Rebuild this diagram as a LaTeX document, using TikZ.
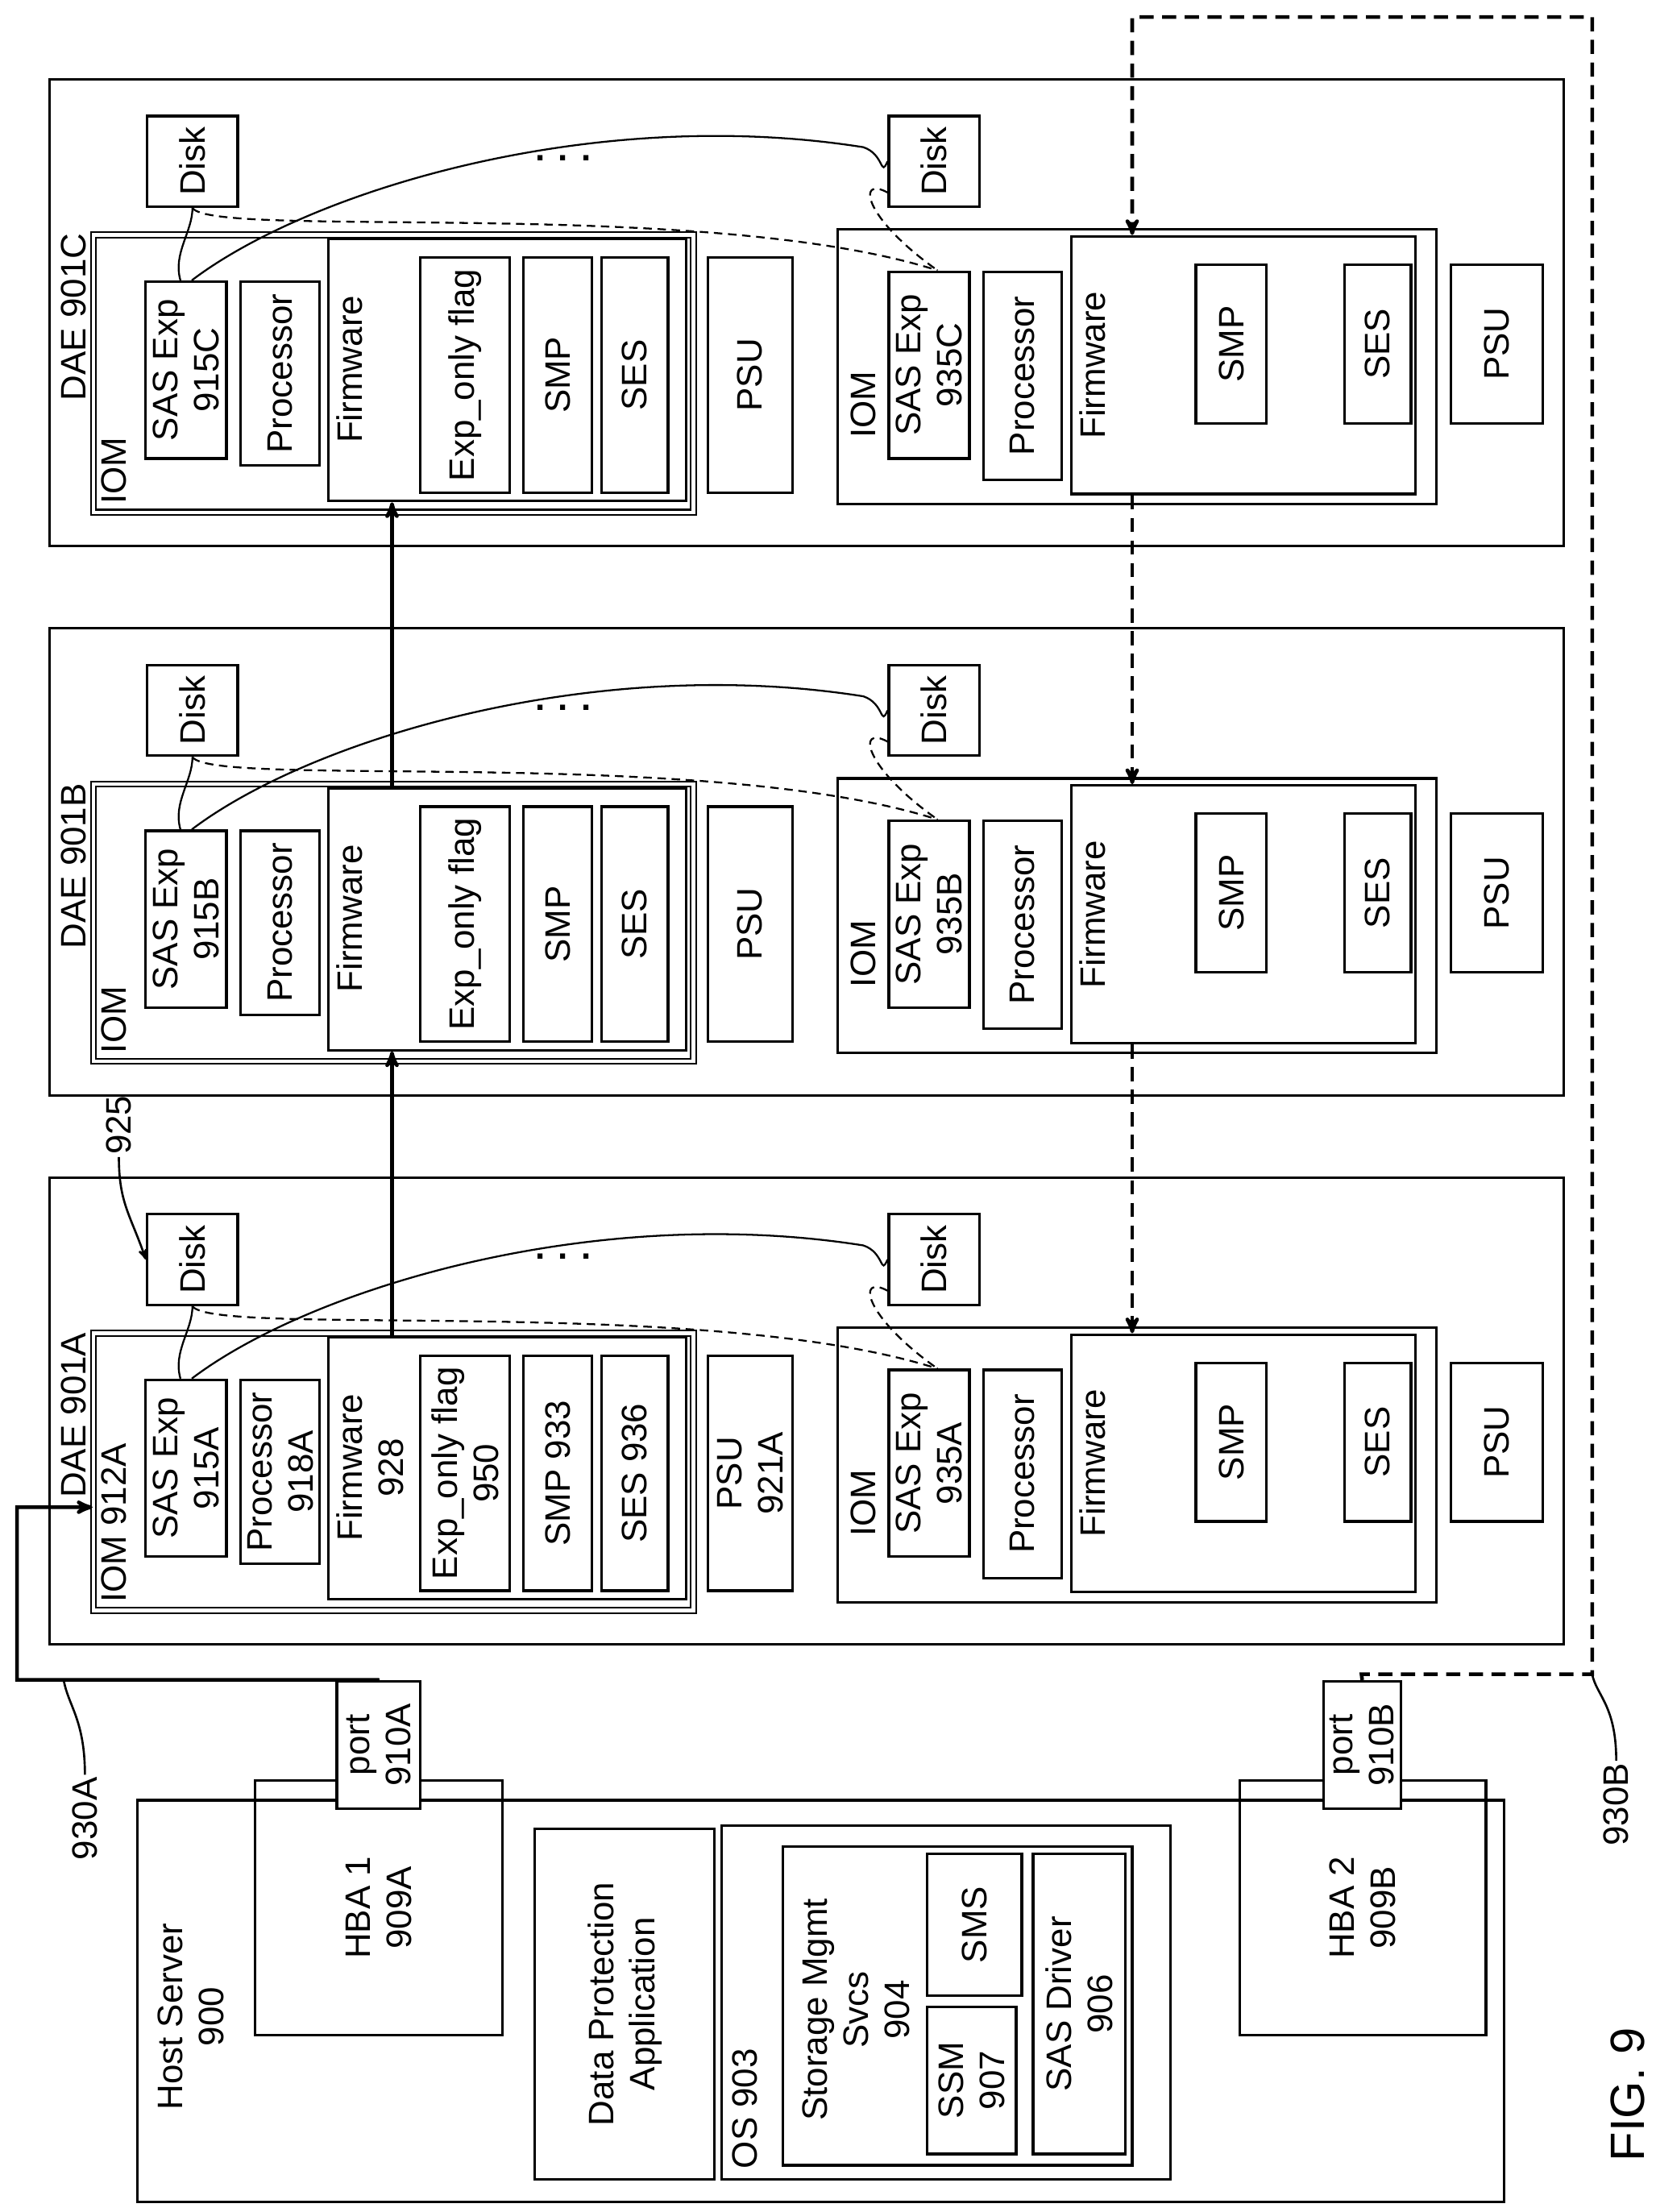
\documentclass[tikz,border=0pt]{standalone}
\usepackage{fontspec}
\setmainfont{Liberation Sans}
\usetikzlibrary{arrows, positioning}
\tikzset{
  bx/.style={rectangle, draw=black, line width=1.8pt, rotate=90, inner sep=0pt, align=center},
  txt/.style={rotate=90, inner sep=1pt, align=center},
  dbl/.style={double, double distance=2.5pt, line width=1.2pt},
  lnk/.style={line width=2.6pt},
  dsh/.style={dash pattern=on 10pt off 6pt},
  thindsh/.style={line width=1.3pt, dash pattern=on 6pt off 4pt},
}
% box from screen corners (x1,y1)-(x2,y2), text rotated
\newcommand\bx[7][]{%
  \pgfmathsetmacro\bw{#5-#3}\pgfmathsetmacro\bh{#6-#4}%
  \node[bx, minimum width=\bh pt, minimum height=\bw pt, #1] (#2) at ({(#3+#5)/2},{(#4+#6)/2}) {#7};}
\begin{document}
\begin{tikzpicture}[x=1pt, y=-1pt, >=stealth', line width=1.5pt, font=\fontsize{25}{29}\selectfont]
          \useasboundingbox (0,0) rectangle (1170,1563);

          % host server
          \bx{host}{97}{1272}{1063}{1556}{}
          \node[txt] (hostlbl) at (135,1425) {Host Server\\900};
          \bx{hbaA}{180}{1258}{355}{1438}{HBA 1\\909A}
          \bx[fill=white]{portA}{238}{1188}{297}{1278}{port\\910A}
          \bx{dpa}{378}{1292}{505}{1540}{Data Protection\\Application}
          \bx{os}{510}{1290}{827}{1540}{}
          \node[txt, anchor=north west] (oslbl) at (516,1534) {OS 903};
          \bx{sms}{553}{1305}{800}{1530}{}
          \node[txt] (smslbl) at (605,1420) {Storage Mgmt\\Svcs\\904};
          \bx{ssm}{655}{1418}{718}{1522}{SSM\\907}
          \bx{smsb}{655}{1310}{722}{1410}{SMS}
          \bx{drv}{730}{1310}{795}{1522}{SAS Driver\\906}
          \bx{hbaB}{876}{1258}{1050}{1438}{HBA 2\\909B}
          \bx[fill=white]{portB}{935}{1188}{990}{1278}{port\\910B}

          % enclosures
          \foreach \s/\dy/\iom/\sas/\proc/\fw/\flag/\smp/\ses/\psu in {%
              A/0/{IOM 912A}/{SAS Exp\\915A}/{Processor\\918A}/{Firmware\\928}/{Exp\_only flag\\950}/{SMP 933}/{SES 936}/{PSU\\921A},
              B/-388/IOM/{SAS Exp\\915B}/Processor/Firmware/{Exp\_only flag}/SMP/SES/PSU,
              C/-776/IOM/{SAS Exp\\915C}/Processor/Firmware/{Exp\_only flag}/SMP/SES/PSU} {
            \begin{scope}[shift={(0,\dy)}]
              \bx{dae\s}{35}{832}{1105}{1162}{}
              \node[txt] (dael\s) at (52,1000) {DAE 901\s};
              \bx[dbl]{iomL\s}{66}{942}{490}{1138}{}
              \node[txt, anchor=north west] (ioml\s) at (70,1134) {\iom};
              \bx{sasL\s}{103}{975}{160}{1100}{\sas}
              \bx{proL\s}{170}{975}{226}{1105}{\proc}
              \bx{fwL\s}{232}{945}{485}{1130}{}
              \node[txt, anchor=north] (fwl\s) at (236,1037) {\fw};
              \bx{flag\s}{297}{958}{360}{1124}{\flag}
              \bx{smpL\s}{370}{958}{418}{1124}{\smp}
              \bx{sesL\s}{425}{958}{472}{1124}{\ses}
              \bx{psuL\s}{500}{958}{560}{1124}{\psu}
              \bx{diskL\s}{104}{858}{168}{922}{Disk}
              \bx{diskR\s}{628}{858}{692}{922}{Disk}
              \node (dots\s) at (398,888) {\textbf{. . .}};
              \bx{iomR\s}{592}{938}{1015}{1132}{}
              \node[txt] (iomr\s) at (610,1062) {IOM};
              \bx{sasR\s}{628}{968}{685}{1100}{SAS Exp\\935\s}
              \bx{proR\s}{695}{968}{750}{1115}{Processor}
              \bx{fwR\s}{757}{943}{1000}{1125}{}
              \node[txt, anchor=north] (fwr\s) at (761,1034) {Firmware};
              \bx{smpR\s}{845}{963}{895}{1075}{SMP}
              \bx{sesR\s}{950}{963}{997}{1075}{SES}
              \bx{psuR\s}{1025}{963}{1090}{1075}{PSU}

              \draw[line width=1.3pt] ([xshift=-4pt]sasL\s.east) .. controls (122,955) and (136,940) .. (diskL\s.west);
              \draw[line width=1.3pt] ([xshift=4pt]sasL\s.east) .. controls (220,910) and (420,850) .. (610,880)
                 .. controls (625,885) and (622,902) .. (diskR\s.north);
              \draw[thindsh] (diskL\s.west) .. controls (150,945) and (500,915) .. ([xshift=6pt]sasR\s.east);
              \draw[thindsh] ([yshift=-22pt]diskR\s.north) .. controls (605,900) and (610,930) .. ([xshift=6pt]sasR\s.east);
            \end{scope}
          }

          % firmware links
          \draw[->, lnk] ([xshift=-81.5pt]fwLA.east) -- ([xshift=-81.5pt]fwLB.west);
          \draw[->, lnk] ([xshift=-81.5pt]fwLB.east) -- ([xshift=-81.5pt]fwLC.west);
          \draw[->, lnk, dsh] ([xshift=-78.5pt]fwRC.west) -- ([xshift=-78.5pt]fwRB.east);
          \draw[->, lnk, dsh] ([xshift=-78.5pt]fwRB.west) -- ([xshift=-78.5pt]fwRA.east);

          % cables
          \coordinate (a1) at (268,1187);
          \coordinate (a2) at (12,1065);
          \draw[->, lnk] (portA.east) -- (a1) -| (a2) -- ([yshift=-25pt]iomLA.north);
          \coordinate (b1) at (962,1183);
          \coordinate (b2) at (1125,12);
          \coordinate (b3) at (800,12);
          \draw[->, lnk, dsh] (portB.east) -- (b1) -| (b2) -- (b3) -- ([xshift=-78.5pt]fwRC.east);

          % labels
          \node[txt] (l930a) at (60,1285) {930A};
          \draw (l930a.east) .. controls (60,1215) and (48,1205) .. (45,1187);
          \node[txt] (l930b) at (1142,1275) {930B};
          \draw (l930b.east) .. controls (1142,1205) and (1128,1198) .. (1125,1183);
          \node[txt] (l925) at (84,795) {925};
          \draw[->] (l925.west) .. controls (84,850) and (92,858) .. (diskLA.north);
          \node[txt, font=\fontsize{34}{40}\selectfont] (fig) at (1150,1480) {FIG. 9};
        \end{tikzpicture}
\end{document}
